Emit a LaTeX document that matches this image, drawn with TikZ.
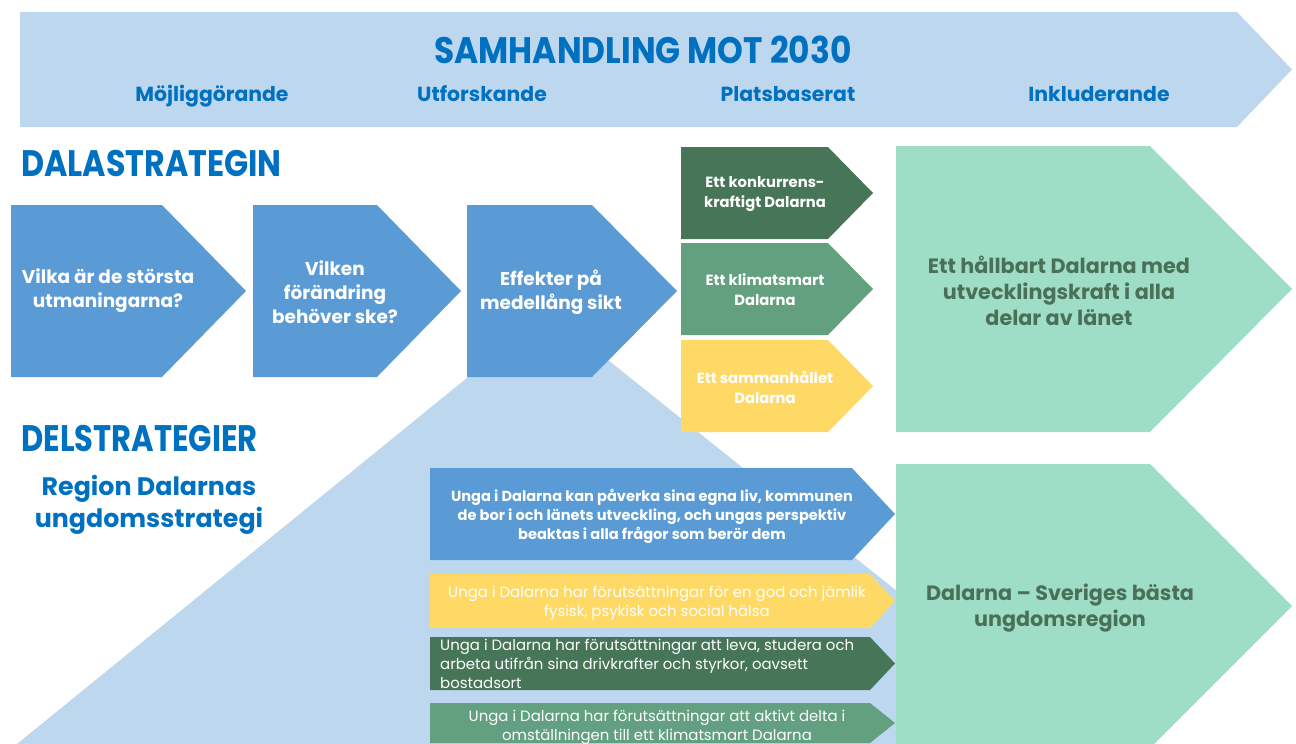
\documentclass[tikz,border=0pt]{standalone}
\usepackage{fontspec}
\setmainfont{Poppins}
\usetikzlibrary{positioning}

\definecolor{bannerblue}{HTML}{BDD7EE}
\definecolor{titleblue}{HTML}{0070C0}
\definecolor{chevblue}{HTML}{5B9BD5}
\definecolor{darkgreen}{HTML}{467558}
\definecolor{midgreen}{HTML}{62A07F}
\definecolor{sunyellow}{HTML}{FFD966}
\definecolor{palegreen}{HTML}{9FDEC6}
\definecolor{textgreen}{HTML}{4A7059}

% chevron: colour, left, top, right of body, tip, bottom
\newcommand{\arrowbox}[6]{%
  \fill[#1] (#2,#3) -- (#4,#3) -- (#5,{(#3+#6)/2}) -- (#4,#6) -- (#2,#6) -- cycle;}

\tikzset{
  heading/.style={text=titleblue, font=\bfseries\fontsize{21}{24}\selectfont},
  phase/.style={text=titleblue, anchor=base, font=\bfseries\fontsize{11.6}{13}\selectfont},
  bigq/.style={text=white, align=center, font=\bfseries\fontsize{10.5}{13.6}\selectfont},
  goal/.style={text=white, align=center, font=\bfseries\fontsize{8.4}{11.3}\selectfont},
  vision/.style={text=textgreen, align=center, font=\bfseries\fontsize{11.8}{14.8}\selectfont},
  youth/.style={text=white, align=center, font=\fontsize{8.5}{10.8}\selectfont},
}

\begin{document}
\begin{tikzpicture}[x=0.02cm, y=-0.02cm]
\useasboundingbox (0,0) rectangle (1296,744);

% banner
\arrowbox{bannerblue}{20}{12}{1237}{1292}{127}
\node[heading] (title) at (643,50) {\scalebox{0.89}[1]{SAMHANDLING MOT 2030}};
\node[phase] (p1) at (212,101) {Möjliggörande};
\node[phase] (p2) at (482,101) {Utforskande};
\node[phase] (p3) at (788,101) {Platsbaserat};
\node[phase] (p4) at (1099,101) {Inkluderande};

% triangle behind the lower part
\fill[bannerblue] (548,312) -- (17,744) -- (1088,744) -- cycle;

% Dalastrategin
\node[heading, anchor=west] (dala) at (15,163) {\scalebox{0.86}[1]{DALASTRATEGIN}};
\arrowbox{chevblue}{11}{205}{162}{246}{377}
\arrowbox{chevblue}{253}{205}{377}{461}{377}
\arrowbox{chevblue}{467}{205}{592}{677}{377}
\node[bigq] (q1) at (108,291) {Vilka är de största\\utmaningarna?};
\node[bigq] (q2) at (335,292) {Vilken\\förändring\\behöver ske?};
\node[bigq] (q3) at (551,292) {Effekter på\\medellång sikt};

\arrowbox{darkgreen}{681}{147}{828}{873}{239}
\arrowbox{midgreen}{681}{243}{828}{873}{335}
\arrowbox{sunyellow}{681}{340}{828}{873}{432}
\node[goal] (g1) at (765,194) {Ett konkurrens-\\kraftigt Dalarna};
\node[goal] (g2) at (765,290) {Ett klimatsmart\\Dalarna};
\node[goal] (g3) at (765,387) {Ett sammanhållet\\Dalarna};

\arrowbox{palegreen}{896}{146}{1150}{1292}{432}
\node[vision] (v1) at (1059,291) {Ett hållbart Dalarna med\\utvecklingskraft i alla\\delar av länet};

% Delstrategier
\node[heading, anchor=west] (del) at (15,438) {\scalebox{0.83}[1]{DELSTRATEGIER}};
\node[text=titleblue, align=center, font=\bfseries\fontsize{14.4}{18.2}\selectfont] (ung) at (149,505) {Region Dalarnas\\ungdomsstrategi};

\arrowbox{chevblue}{430}{468}{852}{895}{560}
\arrowbox{sunyellow}{430}{574}{870}{895}{628}
\arrowbox{darkgreen}{430}{637}{870}{895}{690}
\arrowbox{midgreen}{430}{703}{870}{895}{743}
\node[youth, font=\bfseries\fontsize{8.3}{10.8}\selectfont] (y1) at (652,516) {Unga i Dalarna kan påverka sina egna liv, kommunen\\de bor i och länets utveckling, och ungas perspektiv\\beaktas i alla frågor som berör dem};
\node[youth] (y2) at (657,603) {Unga i Dalarna har förutsättningar för en god och jämlik\\fysisk, psykisk och social hälsa};
\node[youth, align=left, anchor=west] (y3) at (434,664) {Unga i Dalarna har förutsättningar att leva, studera och\\arbeta utifrån sina drivkrafter och styrkor, oavsett\\bostadsort};
\node[youth] (y4) at (657,727) {Unga i Dalarna har förutsättningar att aktivt delta i\\omställningen till ett klimatsmart Dalarna};

\arrowbox{palegreen}{896}{464}{1150}{1292}{748}
\node[vision] (v2) at (1060,608) {Dalarna – Sveriges bästa\\ungdomsregion};
\end{tikzpicture}
\end{document}
